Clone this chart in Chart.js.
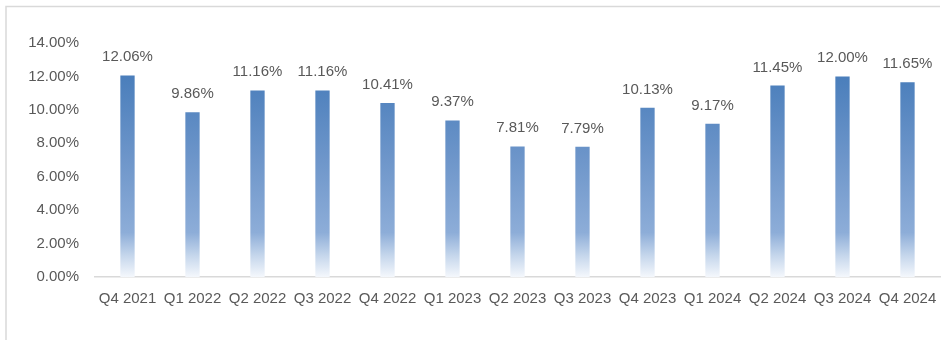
<!DOCTYPE html>
<html>
<head>
<meta charset="utf-8">
<script src="https://cdn.jsdelivr.net/npm/chart.js@4"></script>
<style>
  html, body { margin: 0; padding: 0; background: #fff; }
  #wrap { position: relative; width: 950px; height: 340px; }
</style>
</head>
<body>
<div id="wrap"><canvas id="grafico" width="950" height="340"></canvas></div>
<script>
const quarters = ["Q4 2021", "Q1 2022", "Q2 2022", "Q3 2022", "Q4 2022", "Q1 2023", "Q2 2023",
  "Q3 2023", "Q4 2023", "Q1 2024", "Q2 2024", "Q3 2024", "Q4 2024"];
const rates = [12.06, 9.86, 11.16, 11.16, 10.41, 9.37, 7.81, 7.79, 10.13, 9.17, 11.45, 12.00, 11.65];
const yTicks = [0, 2, 4, 6, 8, 10, 12, 14];

const textColor = "#595959";
const fontFamily = "'Liberation Sans', Arial, sans-serif";

// frame lines (top + left) like the original picture
const frame = {
  id: "frame",
  beforeDraw(chart) {
    const c = chart.ctx;
    c.save();
    c.strokeStyle = "#d9d9d9";
    c.lineWidth = 1.5;
    c.beginPath();
    c.moveTo(6, 340);
    c.lineTo(6, 6.5);
    c.lineTo(940, 6.5);
    c.stroke();
    c.restore();
  },
};

// value labels above the bars
const valueLabels = {
  id: "valueLabels",
  afterDatasetsDraw(chart) {
    const c = chart.ctx;
    const meta = chart.getDatasetMeta(0);
    c.save();
    c.fillStyle = textColor;
    c.font = "15px " + fontFamily;
    c.textAlign = "center";
    c.textBaseline = "alphabetic";
    meta.data.forEach((bar, i) => {
      c.fillText(rates[i].toFixed(2) + "%", bar.x, bar.y - 14);
    });
    c.restore();
  },
};

function barGradient(context) {
  const area = context.chart.chartArea;
  if (!area) return "#4a7ebb";
  const g = context.chart.ctx.createLinearGradient(0, area.bottom, 0, area.top);
  g.addColorStop(0, "#f4f7fc");
  g.addColorStop(0.09, "#c6d7ec");
  g.addColorStop(0.19, "#8dadd8");
  g.addColorStop(0.5, "#6e96ca");
  g.addColorStop(0.86, "#4a7ebb");
  g.addColorStop(1, "#4678b8");
  return g;
}

const ctx = document.getElementById("grafico").getContext("2d");
const grafico = new Chart(ctx, {
  type: "bar",
  data: {
    labels: quarters,
    datasets: [
      {
        data: rates,
        backgroundColor: barGradient,
        barPercentage: 0.22,
        categoryPercentage: 1,
      },
    ],
  },
  options: {
    responsive: false,
    animation: false,
    layout: { padding: { top: 43, right: 10, left: 0, bottom: 0 } },
    plugins: {
      legend: { display: false },
      tooltip: { enabled: false },
    },
    scales: {
      x: {
        grid: { display: false, drawTicks: false },
        border: { display: true, color: "#d9d9d9", width: 1.5 },
        ticks: {
          color: textColor,
          font: { size: 15, family: fontFamily },
          padding: 13,
          autoSkip: false,
          maxRotation: 0,
        },
        afterFit: (s) => { s.height = 63; },
      },
      y: {
        min: 0,
        max: 14,
        afterBuildTicks: (s) => { s.ticks = yTicks.map((v) => ({ value: v })); },
        grid: { display: false, drawTicks: false },
        border: { display: false },
        ticks: {
          color: textColor,
          font: { size: 15, family: fontFamily },
          padding: 16,
          callback: (v) => v.toFixed(2) + "%",
        },
        afterFit: (s) => { s.width = 95; },
      },
    },
  },
  plugins: [frame, valueLabels],
});
</script>
</body>
</html>
